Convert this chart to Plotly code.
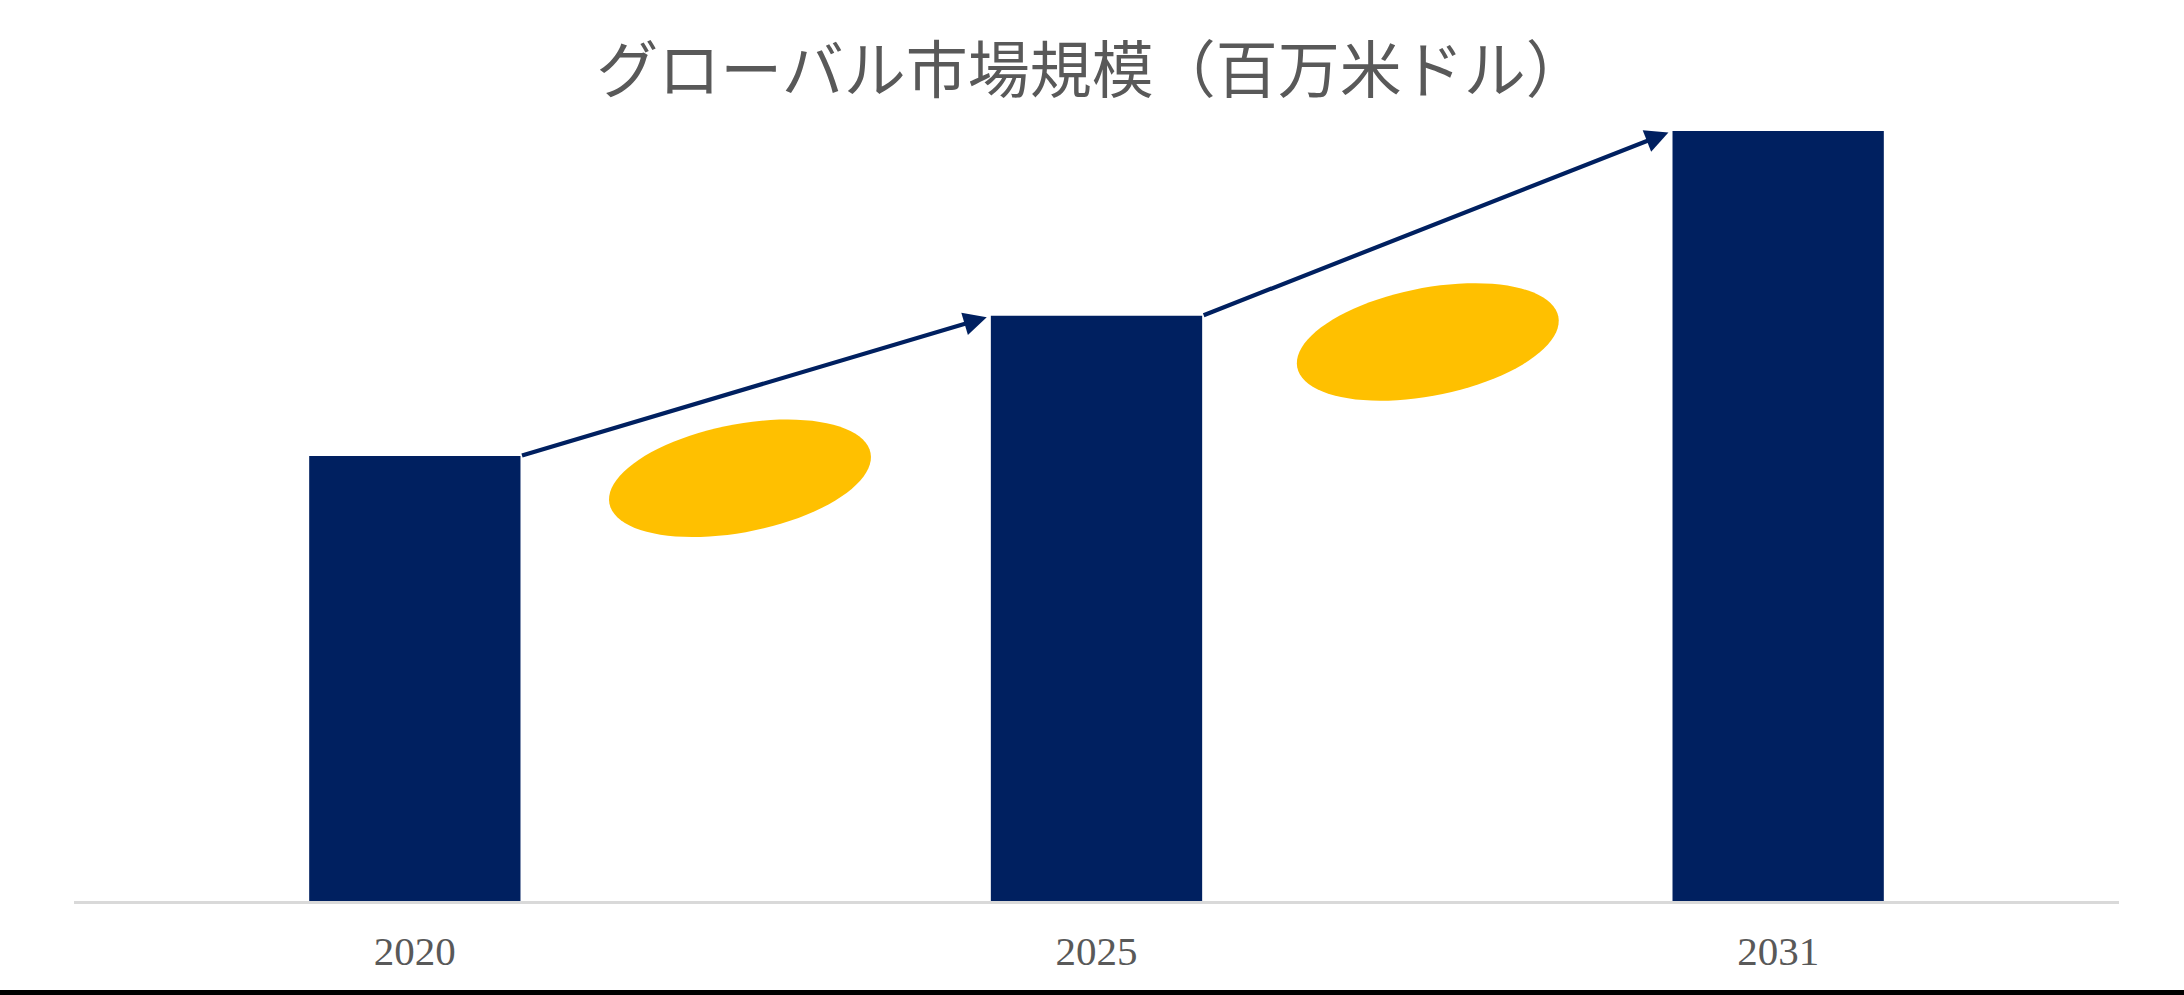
import math
import plotly.graph_objects as go

# ---- data ----
years = ["2020", "2025", "2031"]
market_size = [57.8, 76.0, 100.0]   # relative market size (index, 2031 = 100)
title_text = "グローバル市場規模（百万米ドル）"

# ---- style ----
BAR_COLOR = "#002060"
ELLIPSE_COLOR = "#FFC000"
TEXT_GRAY = "#595959"
AXIS_GRAY = "#D9D9D9"
BAR_WIDTH = 0.31

W, H = 2184, 995
ML, MR, MT, MB = 74, 65, 131, 94
YMAX = 100.0
plot_w = W - ML - MR
plot_h = H - MT - MB
kx = plot_w / 3.0          # px per category unit
ky = plot_h / YMAX         # px per y unit

fig = go.Figure()
fig.add_trace(go.Bar(
    x=list(range(len(years))), y=market_size, width=BAR_WIDTH,
    marker=dict(color=BAR_COLOR, line=dict(width=0)),
    hoverinfo="skip", showlegend=False,
))

# decorative ellipses between bars (center in data units, sizes in px)
def ellipse_path(cx, cy, a_px, b_px, theta_deg, n=90):
    t = math.radians(theta_deg)
    pts = []
    for i in range(n):
        s = 2 * math.pi * i / n
        ex, ey = a_px * math.cos(s), b_px * math.sin(s)
        rx = ex * math.cos(t) - ey * math.sin(t)
        ry = ex * math.sin(t) + ey * math.cos(t)
        pts.append((cx + rx / kx, cy + ry / ky))
    return "M " + " L ".join(f"{x:.5f},{y:.4f}" for x, y in pts) + " Z"

ellipses = [(0.477, 54.9), (1.486, 72.6)]
for cx, cy in ellipses:
    fig.add_shape(type="path", xref="x", yref="y",
                  path=ellipse_path(cx, cy, 133, 54, 11),
                  fillcolor=ELLIPSE_COLOR, line=dict(width=0), layer="above")

# arrows from top-right corner of each bar to top-left corner of the next
for i in range(len(years) - 1):
    fig.add_annotation(
        x=i + 1 - BAR_WIDTH / 2 - 0.006, y=market_size[i + 1] - 0.2,
        ax=i + BAR_WIDTH / 2, ay=market_size[i],
        xref="x", yref="y", axref="x", ayref="y",
        showarrow=True, arrowhead=2, arrowsize=1.1, arrowwidth=4.2,
        arrowcolor=BAR_COLOR, text="",
    )

# bottom black band
fig.add_shape(type="rect", xref="paper", yref="paper",
              x0=-ML / plot_w, x1=(W - ML) / plot_w,
              y0=-MB / plot_h, y1=-(MB - 5) / plot_h,
              fillcolor="#000000", line=dict(width=0))

fig.update_layout(
    width=W, height=H,
    margin=dict(l=ML, r=MR, t=MT, b=MB, pad=0),
    paper_bgcolor="white", plot_bgcolor="white",
    title=dict(text=title_text, x=0.5, xanchor="center",
               y=1 - 71 / H, yanchor="middle", yref="container",
               font=dict(family="Noto Sans CJK JP", size=62, color=TEXT_GRAY)),
    xaxis=dict(range=[-0.5, 2.5], tickmode="array",
               tickvals=list(range(len(years))), ticktext=years,
               showgrid=False, zeroline=False, showline=True,
               linecolor=AXIS_GRAY, linewidth=3,
               ticks="outside", ticklen=12, tickcolor="rgba(0,0,0,0)",
               tickfont=dict(family="Liberation Serif", size=41, color=TEXT_GRAY)),
    yaxis=dict(range=[0, YMAX], visible=False, showgrid=False, zeroline=False),
    bargap=0.69,
)

fig.write_html("out.html",
               config={"displayModeBar": False, "staticPlot": True},
               post_script="document.body.style.margin='0';document.body.style.overflow='hidden';")
